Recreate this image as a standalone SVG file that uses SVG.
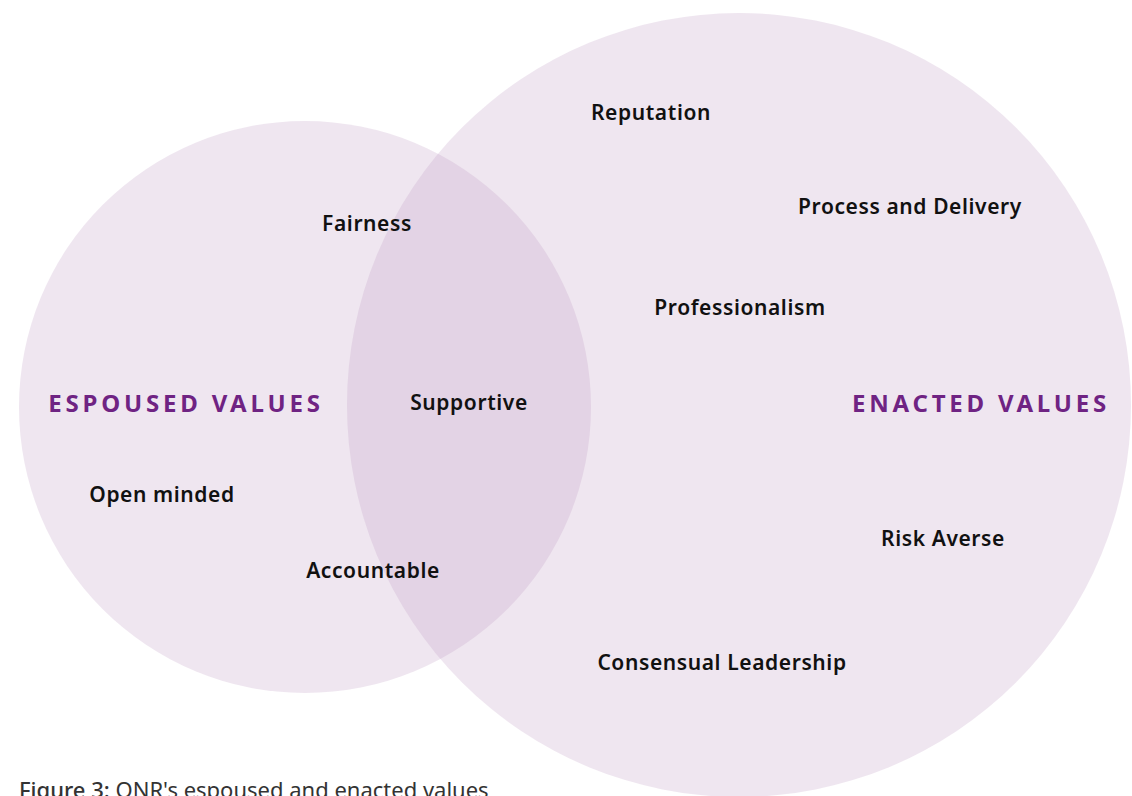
<svg xmlns="http://www.w3.org/2000/svg" width="1132" height="796" viewBox="0 0 1132 796">
<style>
.c{fill:#bf9bc3;fill-opacity:0.25}
.l{font-family:"Noto Sans",Lato,sans-serif;font-weight:600;font-size:21px;fill:#111;text-anchor:middle;letter-spacing:0.6px}
.t{font-family:"Noto Sans",Lato,sans-serif;font-weight:700;font-size:24px;fill:#6f2383;text-anchor:middle;letter-spacing:3.8px}
.cap{font-family:"Noto Sans",Lato,sans-serif;font-size:22px;fill:#333}
</style>
<rect width="1132" height="796" fill="#fff"/>
<g id="espoused"><circle class="c" cx="305" cy="407" r="286"/></g>
<g id="enacted"><circle class="c" cx="739" cy="405" r="392"/></g>
<g id="connectors"></g>
<g id="title-espoused"><text class="t" x="186" y="412">ESPOUSED VALUES</text></g>
<g id="title-enacted"><text class="t" x="981" y="412">ENACTED VALUES</text></g>
<g id="n-reputation"><text class="l" x="651" y="120">Reputation</text></g>
<g id="n-process"><text class="l" x="910" y="214">Process and Delivery</text></g>
<g id="n-fairness"><text class="l" x="367" y="231">Fairness</text></g>
<g id="n-professionalism"><text class="l" x="740" y="315">Professionalism</text></g>
<g id="n-supportive"><text class="l" x="469" y="410">Supportive</text></g>
<g id="n-openminded"><text class="l" x="162" y="502">Open minded</text></g>
<g id="n-riskaverse"><text class="l" x="943" y="546">Risk Averse</text></g>
<g id="n-accountable"><text class="l" x="373" y="578">Accountable</text></g>
<g id="n-consensual"><text class="l" x="722" y="670">Consensual Leadership</text></g>
<g id="caption"><text class="cap" x="19" y="798"><tspan font-weight="500">Figure 3:</tspan> ONR's espoused and enacted values</text></g>
</svg>
